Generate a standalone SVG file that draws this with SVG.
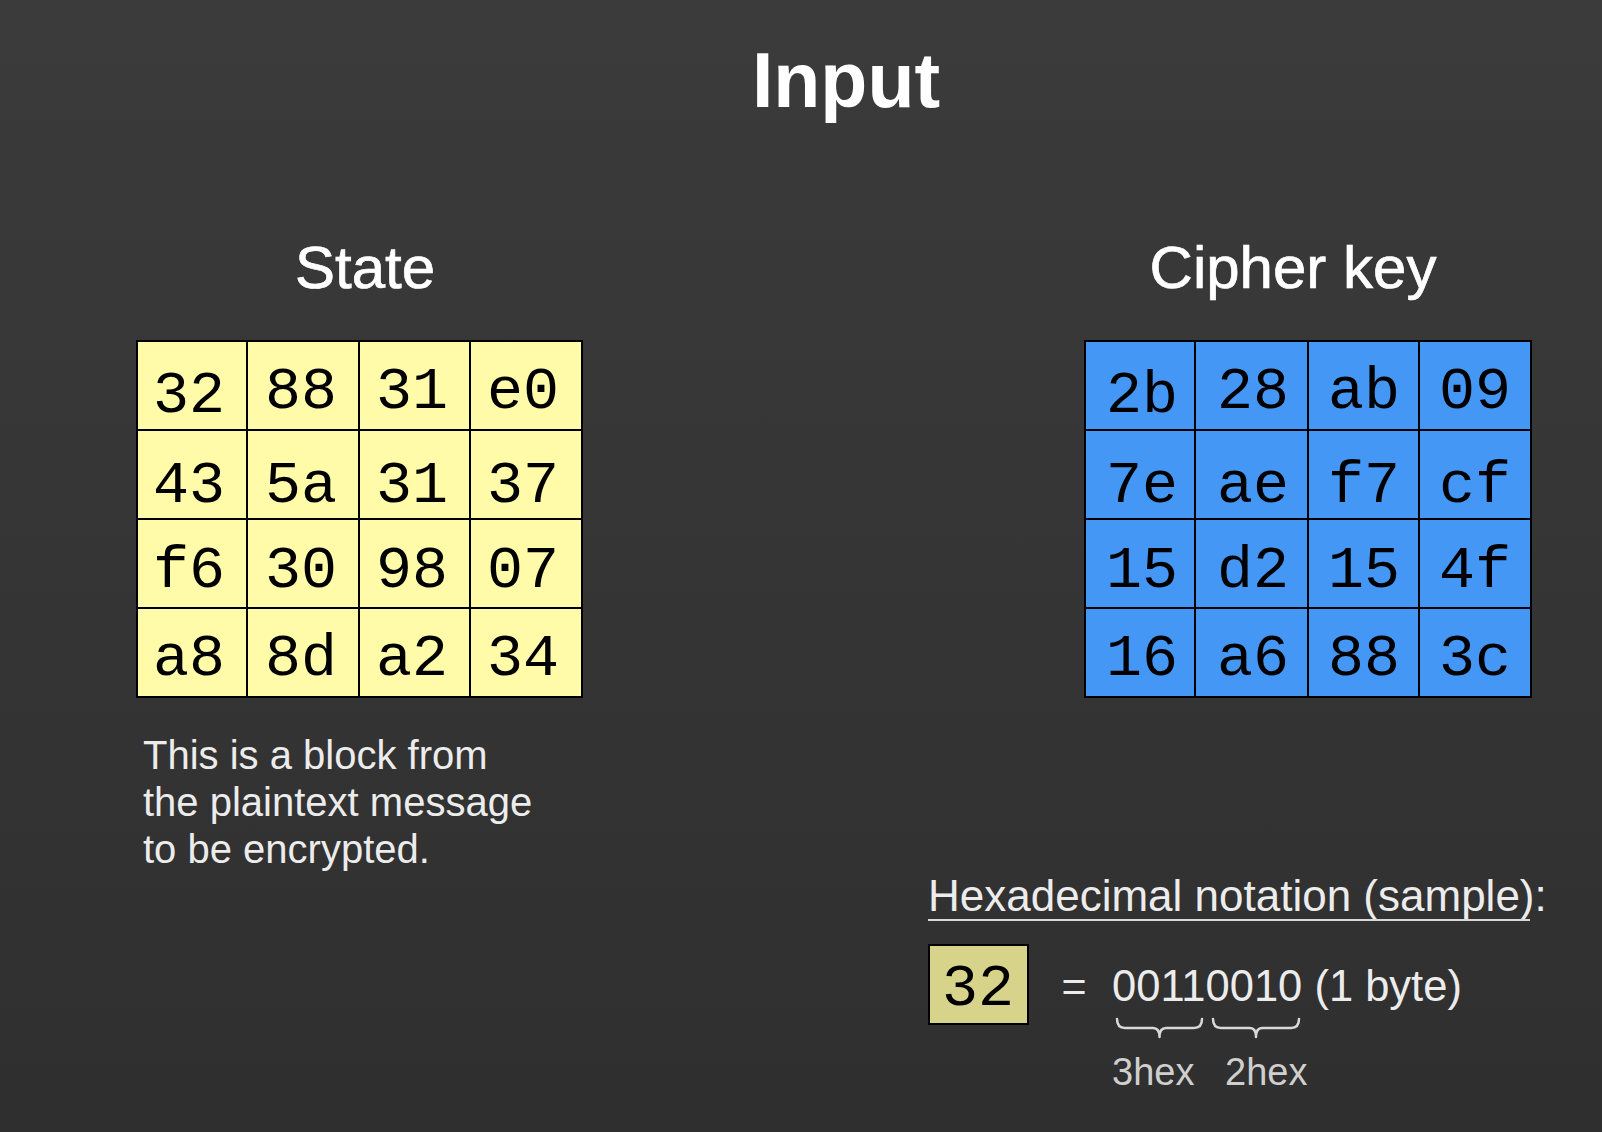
<svg xmlns="http://www.w3.org/2000/svg" width="1602" height="1132" viewBox="0 0 1602 1132">
<defs>
<linearGradient id="bg" x1="0" y1="0" x2="0" y2="1">
<stop offset="0" stop-color="#3b3b3b"/>
<stop offset="1" stop-color="#2f2f2f"/>
</linearGradient>
</defs>
<style>
.title{font-family:"Liberation Sans",Arial,sans-serif;font-weight:bold;fill:#ffffff;}
.sub{font-family:"Liberation Sans",Arial,sans-serif;fill:#ffffff;stroke:#ffffff;stroke-width:0.7;}
.body{font-family:"Liberation Sans",Arial,sans-serif;fill:#ececec;}
.mono{font-family:"Liberation Mono","Courier New",monospace;fill:#000000;font-size:60px;text-anchor:middle;}
.cell{stroke:#000000;stroke-width:2;}
.y{fill:#fffba8;}
.b{fill:#4597f5;}
.brace{fill:none;stroke:#d8d8d8;stroke-width:2.5;stroke-linecap:round;stroke-linejoin:round;}
</style>
<rect width="1602" height="1132" fill="url(#bg)"/>

<g id="title">
<text class="title" x="846" y="107" font-size="77" text-anchor="middle">Input</text>
</g>

<g id="state">
<text class="sub" x="365" y="288" font-size="60" text-anchor="middle">State</text>
<g class="cell y">
<rect x="137" y="341" width="110" height="89"/><rect x="247" y="341" width="112" height="89"/><rect x="359" y="341" width="111" height="89"/><rect x="470" y="341" width="112" height="89"/>
<rect x="137" y="430" width="110" height="89"/><rect x="247" y="430" width="112" height="89"/><rect x="359" y="430" width="111" height="89"/><rect x="470" y="430" width="112" height="89"/>
<rect x="137" y="519" width="110" height="89"/><rect x="247" y="519" width="112" height="89"/><rect x="359" y="519" width="111" height="89"/><rect x="470" y="519" width="112" height="89"/>
<rect x="137" y="608" width="110" height="89"/><rect x="247" y="608" width="112" height="89"/><rect x="359" y="608" width="111" height="89"/><rect x="470" y="608" width="112" height="89"/>
</g>
<g class="mono">
<text x="189" y="412">32</text><text x="301" y="408">88</text><text x="412" y="408">31</text><text x="523" y="408">e0</text>
<text x="189" y="502">43</text><text x="301" y="502">5a</text><text x="412" y="502">31</text><text x="523" y="502">37</text>
<text x="189" y="587">f6</text><text x="301" y="587">30</text><text x="412" y="587">98</text><text x="523" y="587">07</text>
<text x="189" y="675">a8</text><text x="301" y="675">8d</text><text x="412" y="675">a2</text><text x="523" y="675">34</text>
</g>
</g>

<g id="description">
<text class="body" x="143" y="769" font-size="40">This is a block from</text>
<text class="body" x="143" y="816" font-size="40">the plaintext message</text>
<text class="body" x="143" y="863" font-size="40">to be encrypted.</text>
</g>

<g id="cipher-key">
<text class="sub" x="1293" y="288" font-size="60" text-anchor="middle">Cipher key</text>
<g class="cell b">
<rect x="1085" y="341" width="110" height="89"/><rect x="1195" y="341" width="113" height="89"/><rect x="1308" y="341" width="111" height="89"/><rect x="1419" y="341" width="112" height="89"/>
<rect x="1085" y="430" width="110" height="89"/><rect x="1195" y="430" width="113" height="89"/><rect x="1308" y="430" width="111" height="89"/><rect x="1419" y="430" width="112" height="89"/>
<rect x="1085" y="519" width="110" height="89"/><rect x="1195" y="519" width="113" height="89"/><rect x="1308" y="519" width="111" height="89"/><rect x="1419" y="519" width="112" height="89"/>
<rect x="1085" y="608" width="110" height="89"/><rect x="1195" y="608" width="113" height="89"/><rect x="1308" y="608" width="111" height="89"/><rect x="1419" y="608" width="112" height="89"/>
</g>
<g class="mono">
<text x="1142" y="412">2b</text><text x="1253" y="408">28</text><text x="1364" y="408">ab</text><text x="1475" y="408">09</text>
<text x="1142" y="502">7e</text><text x="1253" y="502">ae</text><text x="1364" y="502">f7</text><text x="1475" y="502">cf</text>
<text x="1142" y="587">15</text><text x="1253" y="587">d2</text><text x="1364" y="587">15</text><text x="1475" y="587">4f</text>
<text x="1142" y="675">16</text><text x="1253" y="675">a6</text><text x="1364" y="675">88</text><text x="1475" y="675">3c</text>
</g>
</g>

<g id="hex-notation">
<text class="body" x="928" y="911" font-size="44">Hexadecimal notation (sample):</text>
<line x1="928" y1="920" x2="1530" y2="920" stroke="#d8d8d8" stroke-width="2"/>
<rect x="929" y="945" width="99" height="79" fill="#d7d38b" stroke="#000000" stroke-width="2"/>
<text class="mono" x="978" y="1005" font-size="53">32</text>
<text class="body" x="1074" y="1001" font-size="43" text-anchor="middle">=</text>
<text class="body" x="1112" y="1001" font-size="43.5">00110010 (1 byte)</text>
<g class="brace">
<path d="M1117 1019 Q1117 1028 1125 1028 L1153 1028 Q1159.5 1028 1159.5 1037 Q1159.5 1028 1166 1028 L1194 1028 Q1202 1028 1202 1019"/>
<path d="M1213 1019 Q1213 1028 1221 1028 L1250 1028 Q1256 1028 1256 1037 Q1256 1028 1262 1028 L1291 1028 Q1299 1028 1299 1019"/>
</g>
<text class="body" x="1112" y="1085" font-size="38" style="fill:#cfcfcf">3hex</text>
<text class="body" x="1225" y="1085" font-size="38" style="fill:#cfcfcf">2hex</text>
</g>
</svg>
